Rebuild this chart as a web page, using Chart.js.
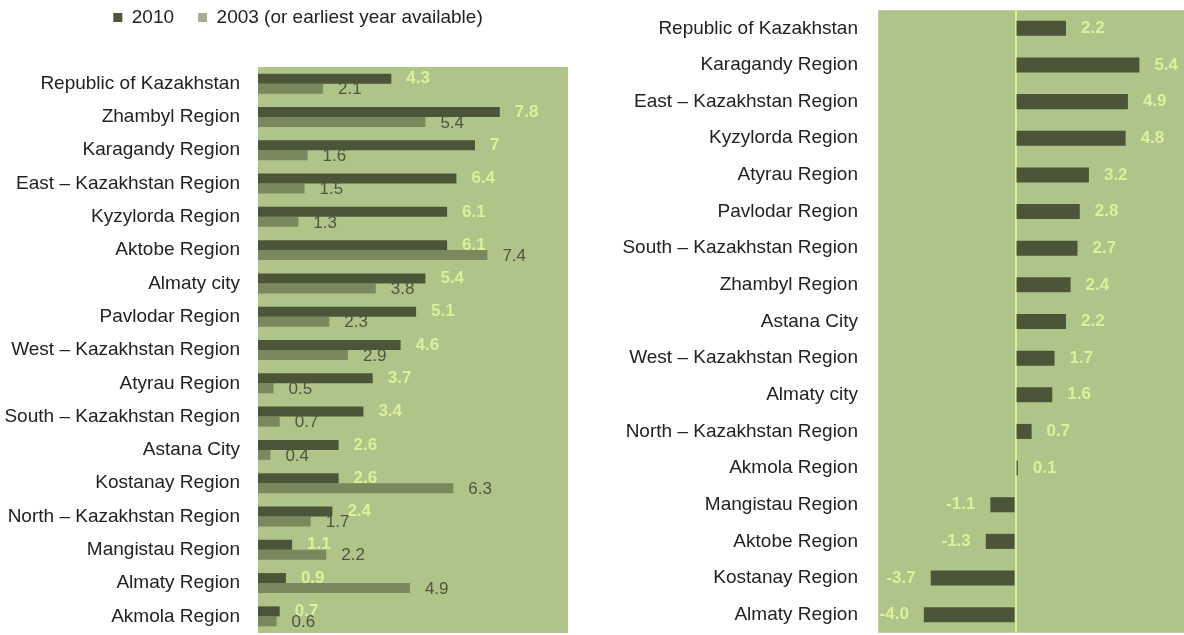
<!DOCTYPE html>
<html>
<head>
<meta charset="utf-8">
<script src="https://cdn.jsdelivr.net/npm/chart.js@4"></script>
<style>
  html, body { margin: 0; padding: 0; background: #fff; width: 1184px; height: 635px; overflow: hidden; }
  #chartLeft { position: absolute; left: 0; top: 0; }
  #chartRight { position: absolute; left: 590px; top: 0; }
</style>
</head>
<body>
<canvas id="chartLeft" width="590" height="635"></canvas>
<canvas id="chartRight" width="610" height="635"></canvas>
<script>
// left chart: 2010 vs 2003
const leftRegions = [
    'Republic of Kazakhstan', 'Zhambyl Region', 'Karagandy Region', 'East – Kazakhstan Region',
    'Kyzylorda Region', 'Aktobe Region', 'Almaty city', 'Pavlodar Region',
    'West – Kazakhstan Region', 'Atyrau Region', 'South – Kazakhstan Region', 'Astana City',
    'Kostanay Region', 'North – Kazakhstan Region', 'Mangistau Region', 'Almaty Region', 'Akmola Region'
];
const values2010 = [4.3, 7.8, 7, 6.4, 6.1, 6.1, 5.4, 5.1, 4.6, 3.7, 3.4, 2.6, 2.6, 2.4, 1.1, 0.9, 0.7];
const values2003 = [2.1, 5.4, 1.6, 1.5, 1.3, 7.4, 3.8, 2.3, 2.9, 0.5, 0.7, 0.4, 6.3, 1.7, 2.2, 4.9, 0.6];
const seriesNames = ['2010', '2003 (or earliest year available)'];

// right chart: change
const rightRegions = [
    'Republic of Kazakhstan', 'Karagandy Region', 'East – Kazakhstan Region', 'Kyzylorda Region',
    'Atyrau Region', 'Pavlodar Region', 'South – Kazakhstan Region', 'Zhambyl Region',
    'Astana City', 'West – Kazakhstan Region', 'Almaty city', 'North – Kazakhstan Region',
    'Akmola Region', 'Mangistau Region', 'Aktobe Region', 'Kostanay Region', 'Almaty Region'
];
const changeValues = [2.2, 5.4, 4.9, 4.8, 3.2, 2.8, 2.7, 2.4, 2.2, 1.7, 1.6, 0.7, 0.1, -1.1, -1.3, -3.7, -4.0];

const DARK = '#4b5638';
const MID = '#7a895d';
const MID_LEGEND = '#a7ad97';
const PLOT_BG = '#afc488';
const LABEL_LIGHT = '#daf19a';
const FONT = '"Liberation Sans", Arial, sans-serif';

// fill the plot area green
const plotBackground = {
    id: 'plotBackground',
    beforeDraw(chart, args, opts) {
        const a = chart.chartArea;
        const ctx = chart.ctx;
        ctx.save();
        ctx.fillStyle = PLOT_BG;
        ctx.fillRect(a.left, a.top, a.right - a.left, a.bottom - a.top);
        if (opts.border) {
            ctx.strokeStyle = opts.border;
            ctx.lineWidth = 1;
            ctx.strokeRect(a.left + 0.5, a.top + 0.5, a.right - a.left - 1, a.bottom - a.top - 1);
        }
        ctx.restore();
    }
};

// value labels next to the bar ends
const valueLabels = {
    id: 'valueLabels',
    afterDatasetsDraw(chart, args, opts) {
        const ctx = chart.ctx;
        chart.data.datasets.forEach((ds, i) => {
            const style = opts.styles[i];
            const meta = chart.getDatasetMeta(i);
            ctx.save();
            ctx.font = style.font;
            ctx.fillStyle = style.color;
            ctx.textBaseline = 'middle';
            meta.data.forEach((bar, j) => {
                const v = ds.data[j];
                const txt = opts.format(v);
                if (v >= 0) {
                    ctx.textAlign = 'left';
                    ctx.fillText(txt, bar.x + 15, bar.y + style.dy);
                } else {
                    ctx.textAlign = 'right';
                    ctx.fillText(txt, bar.x - 15, bar.y + style.dy);
                }
            });
            ctx.restore();
        });
    }
};

// legend box: fixed height, nudged right and up
const legendPlace = {
    id: 'legendPlace',
    beforeInit(chart) {
        if (!chart.legend) return;
        const origFit = chart.legend.fit;
        chart.legend.fit = function() {
            origFit.bind(chart.legend)();
            this.height = 67;
        };
    },
    afterLayout(chart, args, opts) {
        const lg = chart.legend;
        if (!lg) return;
        lg.left += opts.dx; lg.right += opts.dx;
        lg.top += opts.dy; lg.bottom += opts.dy;
    }
};

// fixed width for the label column, no extra vertical padding
function fixAxis(width) {
    return scale => {
        scale.width = width;
        scale.paddingTop = 0;
        scale.paddingBottom = 0;
    };
}

Chart.defaults.font.family = FONT;
Chart.defaults.color = '#222';

new Chart(document.getElementById('chartLeft'), {
    type: 'bar',
    data: {
        labels: leftRegions,
        datasets: [
            { label: seriesNames[0], data: values2010, backgroundColor: DARK },
            { label: seriesNames[1], data: values2003, backgroundColor: MID }
        ]
    },
    options: {
        indexAxis: 'y',
        responsive: false,
        animation: false,
        categoryPercentage: 0.6,
        barPercentage: 1,
        layout: { padding: { left: 0, right: 22, top: 0, bottom: 2 } },
        plugins: {
            legend: {
                position: 'top',
                labels: {
                    boxWidth: 9, boxHeight: 9, padding: 24, font: { size: 19 }, color: '#222',
                    generateLabels: chart => {
                        const items = Chart.defaults.plugins.legend.labels.generateLabels(chart);
                        items.forEach((it, i) => {
                            it.fillStyle = i === 1 ? MID_LEGEND : DARK;
                            it.lineWidth = 0;
                        });
                        return items;
                    }
                }
            },
            legendPlace: { dx: 14, dy: -16 },
            tooltip: { enabled: false },
            valueLabels: {
                format: v => String(v),
                styles: [
                    { font: 'bold 17px ' + FONT, color: LABEL_LIGHT, dy: 0 },
                    { font: '17px ' + FONT, color: '#50553f', dy: 1 }
                ]
            }
        },
        scales: {
            x: { display: false, min: 0, max: 10 },
            y: {
                grid: { display: false, drawTicks: false },
                border: { display: false },
                ticks: { font: { size: 19 }, color: '#222', padding: 18 },
                afterFit: fixAxis(258)
            }
        }
    },
    plugins: [plotBackground, valueLabels, legendPlace]
});

new Chart(document.getElementById('chartRight'), {
    type: 'bar',
    data: {
        labels: rightRegions,
        datasets: [
            { label: 'Change', data: changeValues, backgroundColor: DARK }
        ]
    },
    options: {
        indexAxis: 'y',
        responsive: false,
        animation: false,
        categoryPercentage: 0.41,
        barPercentage: 1,
        layout: { padding: { left: 0, right: 1, top: 10, bottom: 2 } },
        plugins: {
            legend: { display: false },
            tooltip: { enabled: false },
            plotBackground: { border: '#bdd29a' },
            valueLabels: {
                format: v => v.toFixed(1),
                styles: [{ font: 'bold 17px ' + FONT, color: LABEL_LIGHT, dy: 0 }]
            }
        },
        scales: {
            x: {
                min: -6, max: 8,
                ticks: { display: false, stepSize: 2 },
                border: { display: false },
                grid: {
                    drawTicks: false,
                    lineWidth: 2,
                    color: ctx => ctx.tick && ctx.tick.value === 0 ? '#d4ee9a' : 'rgba(0,0,0,0)'
                }
            },
            y: {
                grid: { display: false, drawTicks: false },
                border: { display: false },
                ticks: { font: { size: 19 }, color: '#222', padding: 20 },
                afterFit: fixAxis(288)
            }
        }
    },
    plugins: [plotBackground, valueLabels]
});
</script>
</body>
</html>
